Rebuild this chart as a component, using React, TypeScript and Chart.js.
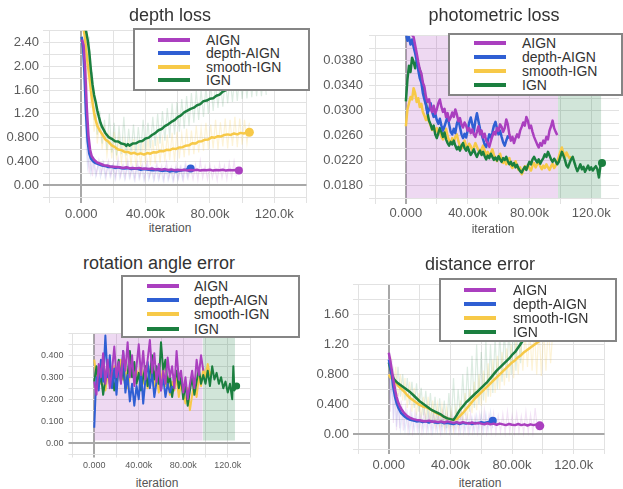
import React, { useEffect, useRef } from "react";
import { Chart, registerables } from "chart.js";

Chart.register(...registerables);

type Pair = [number, number];

// ---------------- shared axis data (x in thousands of iterations) ----------------
const seriesNames = ["AIGN", "depth-AIGN", "smooth-IGN", "IGN"];
const xTicksK = [-20, 0, 20, 40, 60, 80, 100, 120, 140];
const xTicksKPhoto = [-20, 0, 20, 40, 60, 80, 100, 120];
const xTickLabels = ["", "0.000", "", "40.00k", "", "80.00k", "", "120.0k", ""];

// ---------------- depth loss ----------------
const depthYTicks = [-0.2, 0, 0.2, 0.4, 0.6, 0.8, 1.0, 1.2, 1.4, 1.6, 1.8, 2.0, 2.2, 2.4, 2.6];
const depthYLabels = ["", "0.00", "", "0.400", "", "0.800", "", "1.20", "", "1.60", "", "2.00", "", "2.40", ""];
const depthAIGN: Pair[] = [[0.5,2.45],[1.5,2.36],[2.5,1.95],[3.5,1.3],[4.5,0.84],[5.5,0.6],[6.5,0.49],[8,0.43],[10,0.38],[12,0.36],[14,0.335],[16,0.33],[18,0.315],[20,0.31],[22,0.305],[24,0.3],[26,0.29],[28,0.3],[30,0.285],[32,0.29],[34,0.28],[36,0.29],[38,0.275],[40,0.28],[42,0.27],[44,0.28],[46,0.265],[48,0.27],[50,0.26],[52,0.27],[54,0.255],[56,0.265],[58,0.25],[60,0.26],[62,0.25],[64,0.26],[66,0.245],[68,0.255],[70,0.25],[72,0.26],[74,0.245],[76,0.255],[78,0.25],[80,0.26],[82,0.245],[84,0.255],[86,0.25],[88,0.26],[90,0.245],[92,0.255],[94,0.25],[96,0.255],[98,0.245]];
const depthDepthAIGN: Pair[] = [[0.3,2.5],[1.2,2.3],[2,1.9],[3,1.2],[4,0.74],[5,0.53],[6,0.45],[7.5,0.4],[9,0.37],[11,0.35],[13,0.33],[15,0.32],[17,0.305],[19,0.31],[21,0.29],[23,0.3],[25,0.285],[27,0.28],[29,0.29],[31,0.27],[33,0.28],[35,0.275],[37,0.26],[39,0.27],[41,0.265],[43,0.255],[45,0.25],[47,0.26],[49,0.245],[51,0.24],[53,0.25],[55,0.23],[57,0.24],[59,0.23],[61,0.24],[63,0.25],[65,0.26],[66.5,0.27],[68,0.28]];
const depthSmoothIGN: Pair[] = [[1,2.7],[2,2.55],[3,2.3],[4,2.05],[5,1.85],[6,1.6],[7,1.4],[8,1.22],[9,1.1],[10,1.0],[11.5,0.92],[13,0.86],[15,0.77],[17,0.73],[19,0.67],[21,0.64],[23,0.6],[25,0.59],[27,0.56],[29,0.56],[31,0.53],[33,0.545],[35,0.52],[37,0.535],[39,0.515],[41,0.54],[43,0.53],[45,0.555],[47,0.55],[49,0.575],[51,0.57],[53,0.595],[55,0.59],[57,0.615],[59,0.61],[61,0.635],[63,0.64],[65,0.665],[67,0.67],[69,0.705],[71,0.7],[73,0.735],[75,0.74],[77,0.765],[79,0.77],[81,0.805],[83,0.8],[85,0.825],[87,0.82],[89,0.845],[91,0.855],[93,0.845],[95,0.87],[97,0.855],[99,0.88],[101,0.87],[103,0.89],[104.5,0.89]];
const depthIGN: Pair[] = [[1.5,2.7],[3,2.6],[4,2.45],[5,2.25],[6,1.95],[7,1.7],[8,1.52],[9,1.4],[10,1.26],[11,1.15],[12,1.05],[13,0.98],[15,0.88],[17,0.81],[19,0.78],[21,0.74],[23,0.735],[25,0.7],[27,0.69],[28,0.66],[29,0.69],[30,0.665],[32,0.7],[34,0.705],[36,0.735],[38,0.745],[40,0.785],[42,0.8],[44,0.845],[46,0.875],[48,0.925],[50,0.945],[52,0.995],[54,1.025],[56,1.065],[58,1.095],[60,1.145],[62,1.175],[64,1.225],[66,1.255],[68,1.285],[70,1.305],[72,1.345],[74,1.365],[76,1.415],[78,1.425],[80,1.455],[82,1.465],[84,1.505],[86,1.525],[88,1.575],[90,1.6],[94,1.66],[98,1.72],[102,1.78],[106,1.83],[110,1.88],[115,1.93]];
const depthAIGNRaw: Pair[] = [[2,2.3],[3,1.2],[4,0.5],[5,0.2],[6,0.45],[7,0.15],[8,0.4],[9.5,0.18],[11,0.42],[12.5,0.2],[14,0.38],[15.5,0.14],[17,0.4],[18.5,0.16],[20,0.36],[21.5,0.12],[23,0.44],[24.5,0.15],[26,0.35],[27.5,0.12],[29,0.4],[30.5,0.14],[32,0.33],[33.5,0.1],[35,0.38],[36.5,0.13],[38,0.34],[39.5,0.1],[41,0.4],[42.5,0.14],[44,0.3],[45.5,0.1],[47,0.36],[48.5,0.12],[50,0.32],[51.5,0.09],[53,0.38],[54.5,0.12],[56,0.3],[57.5,0.08],[59,0.34],[60.5,0.11],[62,0.31],[63.5,0.09],[65,0.36],[66.5,0.12],[68,0.3],[69.5,0.1],[71,0.34],[72.5,0.09],[74,0.41],[75.5,0.12],[77,0.32],[78.5,0.1],[80,0.35],[81.5,0.12],[83,0.3],[84.5,0.08],[86,0.36],[87.5,0.12],[89,0.33],[90.5,0.1],[92,0.38],[93.5,0.13],[95,0.4],[96.5,0.15]];
const depthDepthAIGNRaw: Pair[] = [[1,2.4],[2,1.5],[3,0.7],[4,0.3],[5,0.5],[6,0.2],[7.5,0.42],[9,0.15],[10.5,0.36],[12,0.14],[13.5,0.38],[15,0.12],[16.5,0.35],[18,0.14],[19.5,0.33],[21,0.1],[22.5,0.36],[24,0.12],[25.5,0.31],[27,0.1],[28.5,0.35],[30,0.12],[31.5,0.3],[33,0.09],[34.5,0.33],[36,0.11],[37.5,0.3],[39,0.08],[40.5,0.32],[42,0.1],[43.5,0.28],[45,0.08],[46.5,0.3],[48,0.09],[49.5,0.27],[51,0.07],[52.5,0.29],[54,0.08],[55.5,0.26],[57,0.07],[58.5,0.28],[60,0.09],[61.5,0.3],[63,0.1],[64.5,0.33],[66,0.12],[67.5,0.34]];
const depthSmoothIGNRaw: Pair[] = [[2,2.6],[3,2.2],[4,1.6],[5,2.4],[6,1.3],[7,1.7],[8,0.9],[9,1.2],[10,0.7],[11.5,1.1],[13,0.6],[14.5,0.95],[16,0.5],[17.5,0.85],[19,0.45],[20.5,0.9],[22,0.42],[23.5,0.8],[25,0.38],[26.5,0.75],[28,0.35],[29.5,0.72],[31,0.33],[32.5,0.78],[34,0.3],[35.5,0.7],[37,0.32],[38.5,0.75],[40,0.35],[41.5,0.8],[43,0.33],[44.5,0.76],[46,0.36],[47.5,0.82],[49,0.38],[50.5,0.78],[52,0.4],[53.5,0.85],[55,0.42],[56.5,0.88],[58,0.4],[59.5,0.9],[61,0.45],[62.5,0.86],[64,0.47],[65.5,0.95],[67,0.5],[68.5,0.92],[70,0.52],[71.5,1.0],[73,0.55],[74.5,0.96],[76,0.58],[77.5,1.05],[79,0.6],[80.5,1.02],[82,0.62],[83.5,1.1],[85,0.6],[86.5,1.06],[88,0.65],[89.5,1.12],[91,0.62],[92.5,1.1],[94,0.66],[95.5,1.15],[97,0.64],[98.5,1.12],[100,0.68],[101.5,1.1],[103,0.7],[104.5,1.05]];
const depthIGNRaw: Pair[] = [[3,2.6],[4,2.0],[5,2.5],[6,1.5],[7,1.9],[8,1.1],[9,1.4],[10,0.85],[11.5,1.25],[13,0.7],[14.5,1.1],[16,0.6],[17.5,1.2],[19,0.55],[20.5,1.05],[22,0.5],[23.5,1.0],[25,0.52],[26.5,1.15],[28,0.5],[29.5,0.95],[31,0.55],[32.5,1.02],[34,0.52],[35.5,0.98],[37,0.56],[38.5,1.1],[40,0.58],[41.5,1.05],[43,0.62],[44.5,1.15],[46,0.66],[47.5,1.2],[49,0.7],[50.5,1.25],[52,0.75],[53.5,1.3],[55,0.8],[56.5,1.38],[58,0.85],[59.5,1.4],[61,0.9],[62.5,1.45],[64,0.95],[65.5,1.5],[67,1.0],[68.5,1.55],[70,1.05],[71.5,1.6],[73,1.1],[74.5,1.62],[76,1.15],[77.5,1.66],[79,1.2],[80.5,1.7],[82,1.25],[83.5,1.72],[85,1.3],[86.5,1.75],[88,1.32],[89.5,1.8],[91,1.38],[92.5,1.82],[94,1.4],[95.5,1.86],[97,1.42],[98.5,1.88],[100,1.45],[101.5,1.9],[103,1.46],[104.5,1.92],[106,1.48],[107.5,1.95],[109,1.5],[110.5,1.95],[112,1.5],[113.5,1.98],[115,1.52]];

// ---------------- photometric loss ----------------
const photoYTicks = [0.016, 0.018, 0.020, 0.022, 0.024, 0.026, 0.028, 0.030, 0.032, 0.034, 0.036, 0.038, 0.040, 0.042];
const photoYLabels = ["", "0.0180", "", "0.0220", "", "0.0260", "", "0.0300", "", "0.0340", "", "0.0380", "", ""];
const photoAIGN: Pair[] = [[3,0.0425],[5,0.0418],[6,0.0405],[7,0.0392],[8,0.0378],[9,0.0366],[10,0.036],[11,0.0345],[12,0.0338],[13,0.0322],[14,0.0314],[15,0.0318],[16,0.0304],[17,0.0298],[18,0.0308],[19,0.0295],[20,0.0302],[21,0.0312],[22,0.0318],[23,0.0306],[24,0.0298],[25,0.0303],[26,0.029],[27,0.0296],[28,0.0284],[29,0.0289],[30,0.0297],[31,0.029],[32,0.0302],[33,0.0294],[34,0.0283],[35,0.0288],[36,0.0278],[37,0.0273],[38,0.0281],[39,0.0276],[40,0.0268],[41,0.0272],[42,0.0264],[43,0.027],[44,0.0262],[45,0.0258],[46,0.0266],[47,0.0275],[48,0.0262],[49,0.0268],[50,0.0257],[51,0.0263],[52,0.0252],[53,0.0248],[54,0.0242],[55,0.0251],[56,0.0259],[57,0.0266],[58,0.0262],[59,0.0272],[60,0.0268],[61,0.0278],[62,0.0274],[63,0.0266],[64,0.0272],[65,0.0286],[66,0.0278],[67,0.0262],[68,0.0252],[69,0.0258],[70,0.0248],[71,0.0256],[72,0.0262],[73,0.0257],[74,0.0268],[75,0.0274],[76,0.0281],[77,0.0276],[78,0.029],[79,0.0284],[80,0.0272],[81,0.0276],[82,0.0266],[83,0.0258],[84,0.0252],[85,0.0246],[86,0.0241],[87,0.0248],[88,0.0244],[89,0.0252],[90,0.0248],[91,0.0258],[92,0.0254],[93,0.0268],[94,0.0275],[95,0.0284],[96,0.0272],[97,0.0266],[98,0.0261]];
const photoDepthAIGN: Pair[] = [[0,0.0425],[1,0.0412],[2,0.0418],[3,0.0406],[4,0.0414],[5,0.0402],[6,0.0392],[7,0.038],[8,0.0365],[9,0.0352],[10,0.0345],[11,0.0328],[12,0.0318],[13,0.0309],[14,0.0296],[15,0.0302],[16,0.0312],[17,0.0298],[18,0.029],[19,0.0296],[20,0.0285],[21,0.0279],[22,0.0287],[23,0.0276],[24,0.0268],[25,0.0275],[26,0.0283],[27,0.0291],[28,0.0278],[29,0.0266],[30,0.0262],[31,0.0271],[32,0.0264],[33,0.0279],[34,0.0286],[35,0.0274],[36,0.0262],[37,0.0256],[38,0.0263],[39,0.0257],[40,0.0268],[41,0.0281],[42,0.0289],[43,0.0278],[44,0.0266],[45,0.0284],[46,0.0296],[47,0.0283],[48,0.0271],[49,0.0262],[50,0.0254],[51,0.0246],[52,0.0242],[53,0.0251],[54,0.0262],[55,0.0257],[56,0.0265],[57,0.0276],[58,0.0282],[59,0.0271],[60,0.0262],[61,0.0268],[62,0.0258],[63,0.0249],[64,0.0244],[65,0.0252],[66,0.0259],[67,0.0256]];
const photoSmoothIGN: Pair[] = [[0,0.0275],[1,0.0302],[2,0.0312],[3,0.0322],[4,0.0318],[5,0.0336],[6,0.0328],[7,0.0314],[8,0.032],[9,0.0306],[10,0.0311],[11,0.0298],[12,0.0292],[13,0.0285],[14,0.0291],[15,0.0282],[16,0.0276],[17,0.0269],[18,0.0274],[19,0.0266],[20,0.0272],[21,0.0263],[22,0.0268],[23,0.0258],[24,0.0254],[25,0.0262],[26,0.0271],[27,0.0259],[28,0.0252],[29,0.0247],[30,0.0256],[31,0.0249],[32,0.0258],[33,0.0262],[34,0.0251],[35,0.0243],[36,0.0239],[37,0.0246],[38,0.0252],[39,0.0244],[40,0.024],[41,0.0247],[42,0.0243],[43,0.0236],[44,0.0241],[45,0.0248],[46,0.0242],[47,0.0236],[48,0.0232],[49,0.0238],[50,0.0244],[51,0.0236],[52,0.0228],[53,0.0234],[54,0.0226],[55,0.0232],[56,0.0238],[57,0.0229],[58,0.0224],[59,0.0219],[60,0.0226],[61,0.0231],[62,0.0222],[63,0.0216],[64,0.0221],[65,0.0214],[66,0.0218],[67,0.0224],[68,0.0212],[69,0.0208],[70,0.0214],[71,0.0219],[72,0.0211],[73,0.0205],[74,0.0209],[75,0.0198],[76,0.0204],[77,0.0211],[78,0.0206],[79,0.0213],[80,0.0208],[81,0.0204],[82,0.0212],[83,0.0216],[84,0.0209],[85,0.0214],[86,0.0218],[87,0.0211],[88,0.0206],[89,0.0212],[90,0.0208],[91,0.0214],[92,0.0209],[93,0.0205],[94,0.0211],[95,0.0215],[96,0.0208],[97,0.0212],[98,0.0218],[99,0.0226],[100,0.0234],[101,0.0241],[102,0.0232],[103,0.0226],[104,0.0233],[105,0.0228],[106,0.0224],[107,0.0226]];
const photoIGN: Pair[] = [[0,0.0315],[1,0.035],[2,0.0372],[3,0.0362],[4,0.0385],[5,0.0378],[6,0.0368],[7,0.038],[8,0.0372],[9,0.0366],[10,0.0352],[11,0.0342],[12,0.0325],[13,0.0312],[14,0.0296],[15,0.0284],[16,0.0278],[17,0.027],[18,0.0276],[19,0.0262],[20,0.0256],[21,0.0264],[22,0.0272],[23,0.0266],[24,0.0258],[25,0.0265],[26,0.0254],[27,0.0248],[28,0.0244],[29,0.025],[30,0.0246],[31,0.0252],[32,0.0244],[33,0.0238],[34,0.0242],[35,0.0236],[36,0.0244],[37,0.0248],[38,0.024],[39,0.0236],[40,0.0242],[41,0.0235],[42,0.0229],[43,0.0233],[44,0.0238],[45,0.0231],[46,0.0226],[47,0.0232],[48,0.0236],[49,0.0229],[50,0.0234],[51,0.0227],[52,0.0222],[53,0.0228],[54,0.0224],[55,0.0231],[56,0.0226],[57,0.0221],[58,0.0225],[59,0.022],[60,0.0227],[61,0.0222],[62,0.0218],[63,0.0224],[64,0.0221],[65,0.0226],[66,0.0219],[67,0.0214],[68,0.0218],[69,0.0212],[70,0.0216],[71,0.0209],[72,0.0213],[73,0.0207],[74,0.0203],[75,0.0201],[76,0.0206],[77,0.021],[78,0.0205],[79,0.0212],[80,0.0218],[81,0.0214],[82,0.0222],[83,0.0226],[84,0.0221],[85,0.0217],[86,0.0222],[87,0.0215],[88,0.022],[89,0.0224],[90,0.023],[91,0.0226],[92,0.0234],[93,0.0228],[94,0.0222],[95,0.0218],[96,0.0223],[97,0.0219],[98,0.0214],[99,0.0218],[100,0.0226],[101,0.0234],[102,0.0228],[103,0.0221],[104,0.0212],[105,0.0209],[106,0.0216],[107,0.0222],[108,0.0226],[109,0.0218],[110,0.021],[111,0.0203],[112,0.0208],[113,0.0214],[114,0.0206],[115,0.021],[116,0.0202],[117,0.0207],[118,0.0212],[119,0.0205],[120,0.0209],[121,0.0204],[122,0.0208],[123,0.0211],[124,0.0206],[125,0.0193],[126,0.0212],[127,0.0216]];
// raw curves span the whole visible range: drawn as shaded spans
const photoAIGNRawSpan: Pair[] = [[0,0.042],[98.5,0.042]];
const photoIGNRawSpan: Pair[] = [[98.5,0.042],[126.5,0.042]];

// ---------------- rotation angle error ----------------
const rotYTicks = [-0.05, 0, 0.05, 0.1, 0.15, 0.2, 0.25, 0.3, 0.35, 0.4, 0.45, 0.5];
const rotYLabels = ["", "0.00", "", "0.100", "", "0.200", "", "0.300", "", "0.400", "", ""];
const rotAIGN: Pair[] = [[0,0.28],[2,0.22],[4,0.36],[6,0.3],[8,0.41],[10,0.27],[12,0.38],[14,0.25],[16,0.33],[18,0.44],[20,0.3],[22,0.37],[24,0.27],[26,0.42],[28,0.33],[30,0.46],[32,0.3],[34,0.4],[36,0.26],[38,0.35],[40,0.45],[42,0.31],[44,0.42],[46,0.29],[48,0.38],[50,0.47],[52,0.32],[54,0.41],[56,0.28],[58,0.36],[60,0.24],[62,0.33],[64,0.27],[66,0.39],[68,0.3],[70,0.35],[72,0.25],[74,0.42],[76,0.29],[78,0.33],[80,0.23],[82,0.3],[84,0.2],[86,0.27],[88,0.33],[90,0.25],[92,0.38],[94,0.31],[96,0.4],[98,0.33]];
const rotDepthAIGN: Pair[] = [[0,0.07],[1,0.2],[2,0.3],[4,0.24],[6,0.38],[8,0.28],[10,0.49],[12,0.3],[14,0.4],[16,0.25],[18,0.34],[20,0.22],[22,0.36],[24,0.28],[26,0.42],[28,0.23],[30,0.31],[32,0.19],[34,0.27],[36,0.17],[38,0.26],[40,0.2],[42,0.33],[44,0.18],[46,0.29],[48,0.37],[50,0.25],[52,0.32],[54,0.21],[56,0.28],[58,0.35],[60,0.24],[62,0.3],[64,0.21],[66,0.27],[68,0.23],[70,0.26]];
const rotSmoothIGN: Pair[] = [[0,0.38],[2,0.3],[4,0.35],[6,0.27],[8,0.33],[10,0.24],[12,0.31],[14,0.36],[16,0.28],[18,0.35],[20,0.26],[22,0.32],[24,0.38],[26,0.29],[28,0.34],[30,0.25],[32,0.31],[34,0.37],[36,0.28],[38,0.33],[40,0.3],[42,0.36],[44,0.27],[46,0.32],[48,0.25],[50,0.3],[52,0.35],[54,0.26],[56,0.31],[58,0.23],[60,0.29],[62,0.34],[64,0.26],[66,0.3],[68,0.22],[70,0.28],[72,0.24],[74,0.3],[76,0.21],[78,0.27],[80,0.23],[82,0.18],[84,0.25],[86,0.15],[88,0.22],[90,0.27],[92,0.21],[94,0.3],[96,0.26],[98,0.34],[100,0.3],[102,0.36],[104,0.31],[106,0.33]];
const rotIGN: Pair[] = [[0,0.28],[2,0.35],[4,0.26],[6,0.31],[8,0.22],[10,0.29],[12,0.36],[14,0.27],[16,0.33],[18,0.24],[20,0.3],[22,0.38],[24,0.28],[26,0.34],[28,0.25],[30,0.31],[32,0.42],[34,0.3],[36,0.37],[38,0.27],[40,0.32],[42,0.24],[44,0.3],[46,0.35],[48,0.26],[50,0.32],[52,0.4],[54,0.29],[56,0.35],[58,0.27],[60,0.46],[62,0.33],[64,0.38],[66,0.26],[68,0.31],[70,0.21],[72,0.28],[74,0.33],[76,0.25],[78,0.3],[80,0.2],[82,0.27],[84,0.17],[86,0.24],[88,0.3],[90,0.22],[92,0.28],[94,0.34],[96,0.27],[98,0.31],[100,0.27],[102,0.33],[104,0.26],[106,0.35],[108,0.29],[110,0.32],[112,0.27],[114,0.3],[116,0.25],[118,0.28],[120,0.23],[122,0.27],[124,0.2],[125,0.35],[126,0.24],[128,0.26]];
const rotAIGNRawSpan: Pair[] = [[0,0.5],[97.5,0.5]];
const rotIGNRawSpan: Pair[] = [[97.5,0.5],[126.5,0.5]];
const rotRawFloor = 0.012;

// ---------------- distance error ----------------
const distYTicks = [-0.2, 0, 0.2, 0.4, 0.6, 0.8, 1.0, 1.2, 1.4, 1.6, 1.8, 2.0];
const distYLabels = ["", "0.00", "", "0.400", "", "0.800", "", "1.20", "", "1.60", "", ""];
const distAIGN: Pair[] = [[0,1.09],[1,0.98],[2,0.85],[3,0.72],[4,0.6],[5,0.5],[6,0.43],[7,0.38],[8,0.34],[10,0.28],[12,0.24],[14,0.215],[16,0.2],[18,0.19],[20,0.185],[22,0.175],[24,0.17],[26,0.18],[28,0.165],[30,0.17],[32,0.16],[34,0.17],[36,0.155],[38,0.17],[40,0.16],[42,0.15],[44,0.16],[46,0.145],[48,0.16],[50,0.15],[52,0.14],[54,0.155],[56,0.14],[58,0.15],[60,0.14],[62,0.13],[64,0.145],[66,0.13],[68,0.14],[70,0.125],[72,0.14],[74,0.13],[76,0.12],[78,0.135],[80,0.125],[82,0.12],[84,0.135],[86,0.12],[88,0.13],[90,0.115],[92,0.13],[94,0.12],[96,0.13],[98,0.11]];
const distDepthAIGN: Pair[] = [[0,1.0],[1,0.9],[2,0.78],[3,0.62],[4,0.5],[5,0.42],[6,0.36],[7,0.32],[8,0.28],[10,0.24],[12,0.21],[14,0.19],[16,0.18],[18,0.17],[20,0.175],[22,0.16],[24,0.17],[26,0.155],[28,0.17],[30,0.155],[32,0.15],[34,0.16],[36,0.145],[38,0.15],[40,0.14],[42,0.135],[44,0.15],[46,0.135],[48,0.15],[50,0.14],[52,0.15],[54,0.135],[56,0.15],[58,0.145],[60,0.16],[62,0.15],[64,0.16],[66,0.17],[67.5,0.18]];
const distSmoothIGN: Pair[] = [[0,0.8],[1,0.76],[2,0.74],[4,0.7],[6,0.65],[8,0.61],[10,0.57],[12,0.52],[14,0.48],[16,0.45],[18,0.42],[20,0.39],[22,0.37],[24,0.36],[26,0.34],[28,0.32],[30,0.29],[32,0.27],[34,0.25],[36,0.23],[38,0.21],[40,0.2],[42,0.19],[44,0.2],[46,0.24],[48,0.28],[50,0.33],[52,0.38],[54,0.43],[56,0.48],[58,0.52],[60,0.56],[62,0.6],[64,0.64],[66,0.68],[68,0.72],[70,0.76],[72,0.8],[74,0.84],[76,0.88],[78,0.92],[80,0.96],[82,0.99],[84,1.03],[86,1.06],[88,1.1],[90,1.13],[92,1.16],[94,1.19],[96,1.22],[98,1.25],[100,1.28],[102,1.32],[104,1.36],[106,1.4]];
const distIGN: Pair[] = [[0,0.96],[1,0.88],[2,0.8],[3,0.75],[4,0.72],[6,0.68],[8,0.65],[10,0.62],[12,0.59],[14,0.56],[16,0.52],[18,0.48],[20,0.44],[22,0.41],[24,0.38],[26,0.35],[28,0.32],[30,0.3],[32,0.28],[34,0.26],[36,0.23],[38,0.21],[40,0.2],[42,0.19],[44,0.25],[46,0.32],[48,0.37],[50,0.42],[52,0.46],[54,0.5],[56,0.54],[58,0.58],[60,0.62],[62,0.66],[64,0.7],[66,0.75],[68,0.8],[70,0.85],[72,0.89],[74,0.93],[76,0.97],[78,1.01],[80,1.06],[82,1.1],[84,1.16],[86,1.22],[88,1.28],[90,1.33],[95,1.45],[100,1.55],[110,1.75],[120,1.85],[127,1.92]];
const distAIGNRaw: Pair[] = [[0,1.1],[1,0.3],[2,1.0],[3,0.15],[4,0.8],[5,0.05],[6,0.55],[7,0.08],[8,0.45],[9.5,0.05],[11,0.35],[12.5,0.04],[14,0.32],[15.5,0.03],[17,0.3],[18.5,0.05],[20,0.28],[21.5,0.03],[23,0.3],[24.5,0.04],[26,0.26],[27.5,0.03],[29,0.29],[30.5,0.05],[32,0.27],[33.5,0.02],[35,0.3],[36.5,0.04],[38,0.25],[39.5,0.03],[41,0.28],[42.5,0.04],[44,0.26],[45.5,0.02],[47,0.3],[48.5,0.03],[50,0.25],[51.5,0.02],[53,0.28],[54.5,0.03],[56,0.24],[57.5,0.02],[59,0.27],[60.5,0.03],[62,0.32],[63.5,0.02],[65,0.25],[66.5,0.03],[68,0.28],[69.5,0.02],[71,0.24],[72.5,0.03],[74,0.27],[75.5,0.02],[77,0.3],[78.5,0.03],[80,0.25],[81.5,0.02],[83,0.28],[84.5,0.03],[86,0.24],[87.5,0.02],[89,0.3],[90.5,0.03],[92,0.26],[93.5,0.02],[95,0.35],[96.5,0.05]];
const distDepthAIGNRaw: Pair[] = [[0,1.0],[1,0.4],[2,0.8],[3,0.2],[4,0.55],[5,0.1],[6,0.4],[7.5,0.06],[9,0.32],[10.5,0.05],[12,0.28],[13.5,0.04],[15,0.27],[16.5,0.05],[18,0.26],[19.5,0.04],[21,0.27],[22.5,0.05],[24,0.25],[25.5,0.04],[27,0.26],[28.5,0.03],[30,0.24],[31.5,0.04],[33,0.25],[34.5,0.03],[36,0.24],[37.5,0.04],[39,0.23],[40.5,0.03],[42,0.22],[43.5,0.04],[45,0.24],[46.5,0.03],[48,0.23],[49.5,0.04],[51,0.24],[52.5,0.03],[54,0.22],[55.5,0.04],[57,0.25],[58.5,0.05],[60,0.26],[61.5,0.04],[63,0.27],[64.5,0.06],[66,0.3],[67.5,0.08]];
const distSmoothIGNRaw: Pair[] = [[0,0.85],[1.5,1.0],[3,0.6],[4.5,0.9],[6,0.5],[7.5,0.8],[9,0.45],[10.5,0.75],[12,0.35],[13.5,0.7],[15,0.3],[16.5,0.62],[18,0.25],[19.5,0.55],[21,0.2],[22.5,0.5],[24,0.18],[25.5,0.5],[27,0.15],[28.5,0.45],[30,0.12],[31.5,0.4],[33,0.1],[34.5,0.38],[36,0.08],[37.5,0.35],[39,0.08],[40.5,0.32],[42,0.06],[43.5,0.35],[45,0.1],[46.5,0.45],[48,0.15],[49.5,0.55],[51,0.2],[52.5,0.6],[54,0.28],[55.5,0.7],[57,0.32],[58.5,0.8],[60,0.38],[61.5,0.85],[63,0.42],[64.5,0.95],[66,0.5],[67.5,1.0],[69,0.55],[70.5,1.05],[72,0.6],[73.5,1.1],[75,0.65],[76.5,1.15],[78,0.7],[79.5,1.2],[81,0.75],[82.5,1.25],[84,0.8],[85.5,1.3],[87,0.85],[88.5,1.35],[90,0.9],[91.5,1.38],[93,0.85],[94.5,1.4],[96,0.8],[97.5,1.45],[99,0.78],[100.5,1.4],[102,0.85],[103.5,1.45],[105,0.95],[106.5,1.4]];
const distIGNRaw: Pair[] = [[0,0.95],[1.5,0.6],[3,0.85],[4.5,0.55],[6,0.9],[7.5,0.5],[9,0.8],[10.5,0.45],[12,0.75],[13.5,0.4],[15,0.7],[16.5,0.35],[18,0.68],[19.5,0.3],[21,0.62],[22.5,0.25],[24,0.58],[25.5,0.2],[27,0.55],[28.5,0.15],[30,0.5],[31.5,0.12],[33,0.48],[34.5,0.1],[36,0.45],[37.5,0.08],[39,0.55],[40.5,0.1],[42,0.75],[43.5,0.12],[45,0.6],[46.5,0.2],[48,0.8],[49.5,0.25],[51,0.9],[52.5,0.3],[54,1.05],[55.5,0.35],[57,1.2],[58.5,0.4],[60,1.1],[61.5,0.45],[63,1.25],[64.5,0.5],[66,1.2],[67.5,0.55],[69,1.3],[70.5,0.6],[72,1.35],[73.5,0.7],[75,1.4],[76.5,0.75],[78,1.45],[79.5,0.8],[81,1.5],[82.5,0.85],[84,1.55],[85.5,0.95],[87,1.6]];

// ---------------- styling ----------------
const FONT = "'Liberation Sans', Arial, Helvetica, sans-serif";
const COLORS = ["#aa3fbf", "#2f5fd3", "#f7c948", "#1b7f3f"];

function rgba(hex: string, a: number) {
  const n = parseInt(hex.slice(1), 16);
  return `rgba(${(n >> 16) & 255},${(n >> 8) & 255},${n & 255},${a})`;
}
const toXY = (d: Pair[]) => d.map(([x, y]) => ({ x, y }));

function lineDs(d: Pair[], color: string, width: number, dot: number) {
  return {
    data: toXY(d),
    borderColor: color,
    backgroundColor: color,
    borderWidth: width,
    borderJoinStyle: "round",
    pointRadius: d.map((_, i) => (i === d.length - 1 ? dot : 0)),
    pointBackgroundColor: color,
    pointBorderWidth: 0,
    fill: false,
  };
}
function rawDs(d: Pair[], color: string, a: number) {
  return {
    data: toXY(d),
    borderColor: rgba(color, a),
    borderWidth: 1.2,
    pointRadius: 0,
    fill: false,
  };
}
function spanDs(d: Pair[], color: string, floor: number, a: number) {
  return {
    data: toXY(d),
    borderWidth: 0,
    borderColor: "rgba(0,0,0,0)",
    backgroundColor: rgba(color, a),
    pointRadius: 0,
    fill: { value: floor },
  };
}

interface PanelProps {
  left: number; top: number; width: number; height: number;
  yAxisWidth: number; xAxisHeight: number; padTop: number; padRight: number;
  xMin: number; xMax: number; yMin: number; yMax: number;
  xTicks: number[]; xLabels: string[]; yTicks: number[]; yLabels: string[];
  fontSize: number; tickLength: number; xPad: number; yPad: number;
  datasets: any[];
}

function Panel(p: PanelProps) {
  const ref = useRef<HTMLCanvasElement>(null);
  useEffect(() => {
    if (!ref.current) return;
    const font = { family: FONT, size: p.fontSize };
    const grid = {
      color: (c: any) => (c.tick && c.tick.value === 0 ? "#a8a8a8" : "#e2e2e2"),
      lineWidth: (c: any) => (c.tick && c.tick.value === 0 ? 2 : 1),
      tickLength: p.tickLength,
      drawTicks: true,
    };
    const chart = new Chart(ref.current, {
      type: "line",
      data: { datasets: p.datasets as any },
      options: {
        animation: false,
        responsive: false,
        events: [],
        layout: { padding: { top: p.padTop, right: p.padRight, left: 0, bottom: 0 } },
        plugins: { legend: { display: false }, tooltip: { enabled: false } },
        elements: { line: { tension: 0 } },
        scales: {
          x: {
            type: "linear",
            min: p.xMin,
            max: p.xMax,
            afterBuildTicks: (s: any) => { s.ticks = p.xTicks.map((v) => ({ value: v })); },
            afterFit: (s: any) => { s.height = p.xAxisHeight; },
            ticks: { autoSkip: false, maxRotation: 0, font, color: "#5a5a5a", padding: p.xPad,
              callback: (_v: any, i: number) => p.xLabels[i] ?? "" },
            grid,
            border: { display: false },
          },
          y: {
            type: "linear",
            min: p.yMin,
            max: p.yMax,
            afterBuildTicks: (s: any) => { s.ticks = p.yTicks.map((v) => ({ value: v })); },
            afterFit: (s: any) => { s.width = p.yAxisWidth; },
            ticks: { autoSkip: false, font, color: "#5a5a5a", padding: p.yPad,
              callback: (_v: any, i: number) => p.yLabels[i] ?? "" },
            grid,
            border: { display: false },
          },
        },
      } as any,
    });
    return () => chart.destroy();
  }, []);
  return (
    <canvas
      ref={ref}
      width={p.width}
      height={p.height}
      style={{ position: "absolute", left: p.left, top: p.top, width: p.width, height: p.height }}
    />
  );
}

function Text(props: { x: number; y: number; size: number; color: string; children: string }) {
  return (
    <div style={{ position: "absolute", left: props.x, top: props.y, transform: "translate(-50%,-50%)",
      fontFamily: FONT, fontSize: props.size, color: props.color, lineHeight: 1, whiteSpace: "nowrap" }}>
      {props.children}
    </div>
  );
}

function Legend(props: { left: number; top: number; width: number; height: number; row0: number; rowStep: number; swatchX: number; textX: number }) {
  const { left, top, width, height, row0, rowStep, swatchX, textX } = props;
  return (
    <div style={{ position: "absolute", left, top, width, height, boxSizing: "border-box",
      border: "2px solid #858585", background: "#fff" }}>
      {seriesNames.map((name, i) => (
        <React.Fragment key={name}>
          <div style={{ position: "absolute", left: swatchX - left - 2, top: row0 + i * rowStep - top - 2 - 2,
            width: 32, height: 4, background: COLORS[i] }} />
          <div style={{ position: "absolute", left: textX - left - 2, top: row0 + i * rowStep - top - 2,
            transform: "translateY(-50%)", fontFamily: FONT, fontSize: 14, color: "#333", lineHeight: 1, whiteSpace: "nowrap" }}>
            {name}
          </div>
        </React.Fragment>
      ))}
    </div>
  );
}

export default function App() {
  const [cA, cB, cY, cG] = COLORS;
  const depthSets = [
    lineDs(depthAIGN, cA, 2.5, 4),
    lineDs(depthDepthAIGN, cB, 2.5, 4),
    lineDs(depthIGN, cG, 2.5, 0),
    lineDs(depthSmoothIGN, cY, 2.5, 4.5),
    rawDs(depthAIGNRaw, cA, 0.15),
    rawDs(depthDepthAIGNRaw, cB, 0.13),
    rawDs(depthIGNRaw, cG, 0.15),
    rawDs(depthSmoothIGNRaw, cY, 0.22),
  ];
  const photoSets = [
    lineDs(photoAIGN, cA, 2.5, 0),
    lineDs(photoDepthAIGN, cB, 2.5, 0),
    lineDs(photoIGN, cG, 2.5, 4),
    lineDs(photoSmoothIGN, cY, 2.5, 0),
    spanDs(photoAIGNRawSpan, cA, 0.016, 0.2),
    spanDs(photoIGNRawSpan, cG, 0.016, 0.2),
  ];
  const rotSets = [
    lineDs(rotAIGN, cA, 2, 0),
    lineDs(rotDepthAIGN, cB, 2, 0),
    lineDs(rotIGN, cG, 2, 3.5),
    lineDs(rotSmoothIGN, cY, 2, 0),
    spanDs(rotAIGNRawSpan, cA, rotRawFloor, 0.2),
    spanDs(rotIGNRawSpan, cG, rotRawFloor, 0.2),
  ];
  const distSets = [
    lineDs(distAIGN, cA, 2.5, 4.5),
    lineDs(distDepthAIGN, cB, 2.5, 4),
    lineDs(distIGN, cG, 2.5, 0),
    lineDs(distSmoothIGN, cY, 2.5, 0),
    rawDs(distAIGNRaw, cA, 0.14),
    rawDs(distDepthAIGNRaw, cB, 0.12),
    rawDs(distIGNRaw, cG, 0.15),
    rawDs(distSmoothIGNRaw, cY, 0.22),
  ];

  return (
    <div style={{ position: "absolute", left: 0, top: 0, width: 623, height: 489, overflow: "hidden", background: "#fff" }}>
      <Panel left={0} top={19} width={311} height={202} yAxisWidth={49} xAxisHeight={24} padTop={10} padRight={2}
        xMin={-20} xMax={140} yMin={-0.2} yMax={2.6} xTicks={xTicksK} xLabels={xTickLabels}
        yTicks={depthYTicks} yLabels={depthYLabels} fontSize={13} tickLength={6} xPad={4} yPad={4} datasets={depthSets} />
      <Panel left={315} top={22} width={308} height={200} yAxisWidth={60} xAxisHeight={24} padTop={10} padRight={0}
        xMin={-20} xMax={138} yMin={0.016} yMax={0.042} xTicks={xTicksKPhoto} xLabels={xTickLabels}
        yTicks={photoYTicks} yLabels={photoYLabels} fontSize={13} tickLength={6} xPad={2} yPad={6} datasets={photoSets} />
      <Panel left={32} top={323} width={222} height={149} yAxisWidth={40} xAxisHeight={18} padTop={8} padRight={2}
        xMin={-20} xMax={140} yMin={-0.05} yMax={0.5} xTicks={xTicksK} xLabels={xTickLabels}
        yTicks={rotYTicks} yLabels={rotYLabels} fontSize={9} tickLength={3.5} xPad={3} yPad={5} datasets={rotSets} />
      <Panel left={308} top={273} width={301} height={200} yAxisWidth={50} xAxisHeight={24} padTop={10} padRight={2}
        xMin={-20} xMax={140} yMin={-0.2} yMax={2.0} xTicks={xTicksK} xLabels={xTickLabels}
        yTicks={distYTicks} yLabels={distYLabels} fontSize={13} tickLength={5} xPad={4} yPad={4} datasets={distSets} />

      <Text x={170} y={15} size={18} color="#333">depth loss</Text>
      <Text x={494} y={15} size={18} color="#333">photometric loss</Text>
      <Text x={159} y={263} size={18} color="#333">rotation angle error</Text>
      <Text x={480} y={264} size={18} color="#333">distance error</Text>

      <Text x={170} y={228} size={12} color="#555">iteration</Text>
      <Text x={493} y={229} size={12} color="#555">iteration</Text>
      <Text x={157} y={483} size={12} color="#555">iteration</Text>
      <Text x={480} y={483} size={12} color="#555">iteration</Text>

      <Legend left={133} top={28} width={177} height={63} row0={40} rowStep={13.3} swatchX={158} textX={206} />
      <Legend left={448} top={33} width={175} height={63} row0={43} rowStep={14} swatchX={474} textX={522} />
      <Legend left={121} top={275} width={179} height={63} row0={286} rowStep={14.2} swatchX={147} textX={194} />
      <Legend left={439} top={278} width={178} height={64} row0={289.5} rowStep={14.1} swatchX={464} textX={513} />
    </div>
  );
}
